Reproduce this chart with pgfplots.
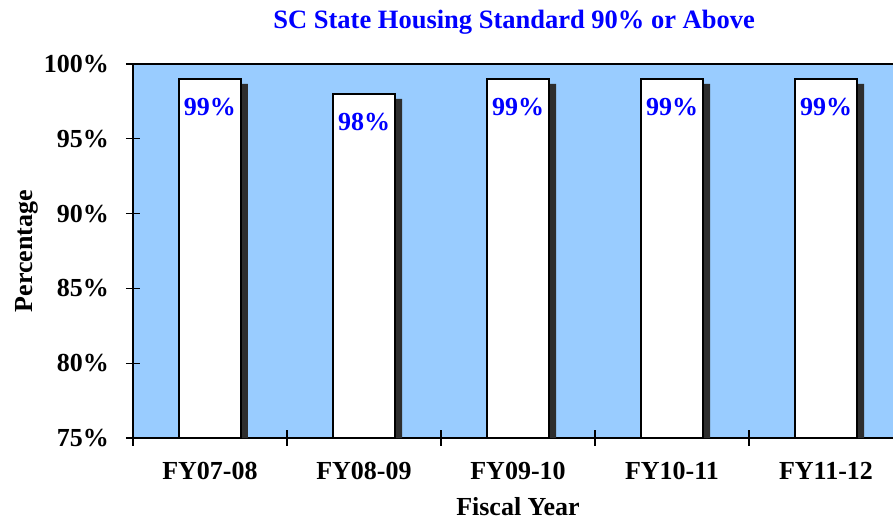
\documentclass[border=0pt]{standalone}
\usepackage{fontspec}
\setmainfont{Liberation Serif}
\usepackage{pgfplots}
\usepackage{pgfplotstable}
\pgfplotsset{compat=1.18}

\definecolor{plotbg}{RGB}{153,204,255}
\definecolor{lblblue}{RGB}{0,0,255}

\pgfplotstableread{
x v
0 99
1 98
2 99
3 99
4 99
}\housing

\begin{document}
\begin{tikzpicture}
\begin{axis}[
    at={(0,0)}, anchor=south west,
    scale only axis,
    width=770bp, height=374bp,
    xmin=-0.5, xmax=4.5,
    ymin=75, ymax=100,
    axis background/.style={fill=plotbg},
    axis line style={line width=1.6bp},
    font=\fontsize{26bp}{30bp}\selectfont\bfseries,
    /pgf/number format/assume math mode=true,
    xtick={0,1,2,3,4},
    xticklabels={FY07-08,FY08-09,FY09-10,FY10-11,FY11-12},
    major x tick style={draw=none},
    minor xtick={-0.5,0.5,1.5,2.5,3.5,4.5},
    minor tick length=15bp,
    minor x tick style={line width=1.4bp, black},
    ytick={75,80,85,90,95,100},
    yticklabels={75\%,80\%,85\%,90\%,95\%,100\%},
    major tick length=14bp,
    major y tick style={line width=1.4bp, black},
    tick align=center,
    xtick pos=left, ytick pos=left,
    xticklabel style={anchor=north, inner sep=0pt, yshift=-17bp},
    yticklabel style={anchor=east, inner sep=0pt, xshift=-17bp},
    title={SC State Housing Standard 90\% or Above},
    title style={at={(0.495,1)}, anchor=base, yshift=30bp, text=lblblue,
        font=\fontsize{26.5bp}{30bp}\selectfont\bfseries},
    xlabel={Fiscal Year},
    xlabel style={at={(0.5,0)}, anchor=base, yshift=-77bp},
    ylabel={Percentage},
    ylabel style={at={(0,0.5)}, anchor=base, yshift=100bp},
]
% shadow behind each bar
\addplot[ybar, bar width=62bp, bar shift=7bp, fill=black!82, draw=none]
    table[x=x, y expr=\thisrow{v}-0.33] {\housing};
\addplot[ybar, bar width=62bp, bar shift=0bp, fill=white, draw=black, line width=1.5bp,
    nodes near coords={\pgfmathprintnumber{\pgfplotspointmeta}\%},
    every node near coord/.append style={anchor=north, inner sep=0pt, yshift=-19bp,
        text=lblblue, font=\fontsize{26bp}{30bp}\selectfont\bfseries}]
    table[x=x, y=v] {\housing};
\end{axis}
\pgfresetboundingbox
\path (-133bp,-83bp) rectangle (760bp,438bp);
\end{tikzpicture}
\end{document}
